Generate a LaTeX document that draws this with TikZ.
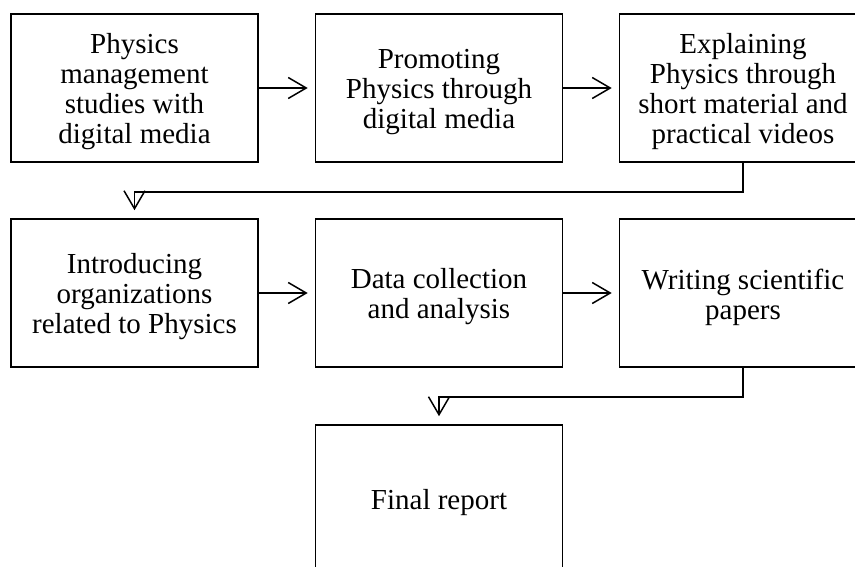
\documentclass[tikz,border=0pt]{standalone}
\usepackage{fontspec}
\setmainfont{Liberation Serif}
\usetikzlibrary{arrows.meta}
\tikzset{
  box/.style={draw, line width=1.6pt, rectangle, minimum width=247pt, minimum height=148pt,
    inner sep=0pt},
  boxtext/.style={align=center, inner sep=0pt, yshift=-4pt, font=\fontsize{29}{30}\selectfont},
  conn/.style={line width=1.5pt, -{Straight Barb[length=18pt,width=21pt,line width=1.5pt]}},
}
\begin{document}
\begin{tikzpicture}[x=1pt,y=-1pt]
\useasboundingbox (0,0) rectangle (855,566);
\clip (0,0) rectangle (855,566);
\node[box] (b1) at (134.5,88) {};
\node[box] (b2) at (439,88) {};
\node[box] (b3) at (743,88) {};
\node[box] (b4) at (134.5,293) {};
\node[box] (b5) at (439,293) {};
\node[box] (b6) at (743,293) {};
\node[box] (b7) at (439,499) {};
\node[boxtext] (t1) at (b1.center) {Physics\\management\\studies with\\digital media};
\node[boxtext] (t2) at (b2.center) {Promoting\\Physics through\\digital media};
\node[boxtext] (t3) at (b3.center) {Explaining\\Physics through\\short material and\\practical videos};
\node[boxtext] (t4) at (b4.center) {Introducing\\organizations\\related to Physics};
\node[boxtext] (t5) at (b5.center) {Data collection\\and analysis};
\node[boxtext] (t6) at (b6.center) {Writing scientific\\papers};
\node[boxtext] (t7) at (b7.center) {Final report};
\draw[conn, shorten >=7pt] (b1) -- (b2);
\draw[conn, shorten >=7pt] (b2) -- (b3);
\draw[conn, shorten >=7pt] (b4) -- (b5);
\draw[conn, shorten >=7pt] (b5) -- (b6);
\draw[conn, shorten >=8pt] (b3.south) -- ++(0,29) -| (b4.north);
\draw[conn, shorten >=8pt] (b6.south) -- ++(0,29) -| (b7.north);
\end{tikzpicture}
\end{document}
